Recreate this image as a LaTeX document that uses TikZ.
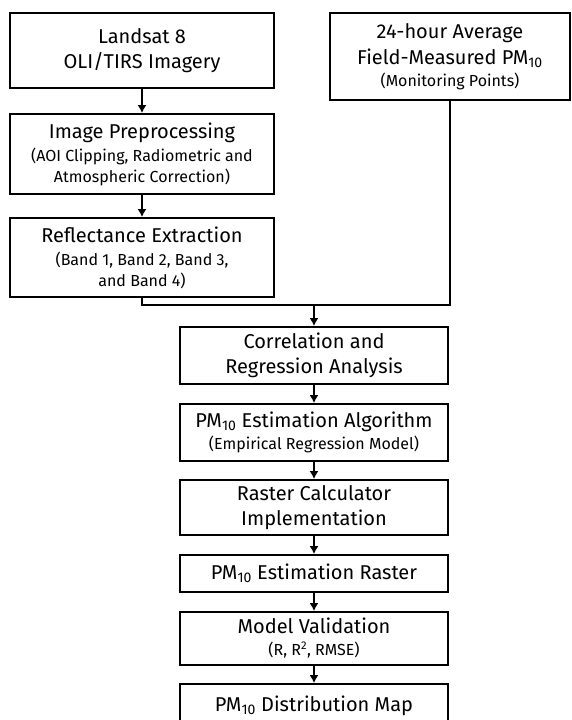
\documentclass[tikz,border=0pt]{standalone}
\usepackage{fontspec}
\setmainfont{Fira Sans}
\usetikzlibrary{positioning,arrows.meta}

\newcommand{\subline}{\fontsize{16}{21}\selectfont}

\tikzset{
  stepbox/.style={draw, line width=1.8pt, align=center, inner sep=1pt,
    font=\fontsize{20}{25}\selectfont},
  leftbox/.style={stepbox, minimum width=264pt},
  midbox/.style={stepbox, minimum width=268pt},
  arr/.style={line width=1.8pt, -{Latex[length=8pt,width=9pt]}},
  link/.style={line width=1.8pt},
}

\begin{document}
\begin{tikzpicture}[x=1pt,y=1pt]
  \useasboundingbox (0,0) rectangle (571,720);
  \newcommand{\colL}{142};
  \newcommand{\colR}{450};
  \newcommand{\colM}{314};
  % inputs
  \node[leftbox, minimum height=75pt] (landsat) at (\colL,669.5)
    {Landsat 8\\[0pt]OLI/TIRS Imagery};
  \node[stepbox, minimum width=240pt, minimum height=87pt] (field) at (\colR,663.5)
    {24-hour Average\\[1pt]Field-Measured PM\textsubscript{10}\\[-3pt]\subline(Monitoring Points)};
  \node[leftbox, minimum height=80pt] (prep) at (\colL,566)
    {Image Preprocessing\\[-2pt]\subline(AOI Clipping, Radiometric and\\[-4pt]\subline Atmospheric Correction)};
  \node[leftbox, minimum height=79pt] (refl) at (\colL,462.5)
    {Reflectance Extraction\\[-2pt]\subline(Band 1, Band 2, Band 3,\\[-4pt]\subline and Band 4)};
  % processing chain
  \node[midbox, minimum height=57pt] (corr) at (\colM,364.5)
    {Correlation and\\[0pt]Regression Analysis};
  \node[midbox, minimum height=57pt] (algo) at (\colM,287.5)
    {PM\textsubscript{10} Estimation Algorithm\\[-3pt]\subline(Empirical Regression Model)};
  \node[midbox, minimum height=55pt] (calc) at (\colM,212.5)
    {Raster Calculator\\[0pt]Implementation};
  \node[midbox, minimum height=37pt] (raster) at (\colM,146.5)
    {PM\textsubscript{10} Estimation Raster};
  \node[midbox, minimum height=53pt] (valid) at (\colM,81.5)
    {Model Validation\\[-3pt]\subline(R, R\textsuperscript{2}, RMSE)};
  \node[midbox, minimum height=44pt] (distmap) at (\colM,14)
    {PM\textsubscript{10} Distribution Map};
  % connectors
  \coordinate (join) at (\colM,415);
  \draw[arr] (landsat) -- (prep);
  \draw[arr] (prep) -- (refl);
  \draw[link] (refl.south) |- (join) -| (field.south);
  \draw[arr] (join) -- (corr);
  \draw[arr] (corr) -- (algo);
  \draw[arr] (algo) -- (calc);
  \draw[arr] (calc) -- (raster);
  \draw[arr] (raster) -- (valid);
  \draw[arr] (valid) -- (distmap);
\end{tikzpicture}
\end{document}
